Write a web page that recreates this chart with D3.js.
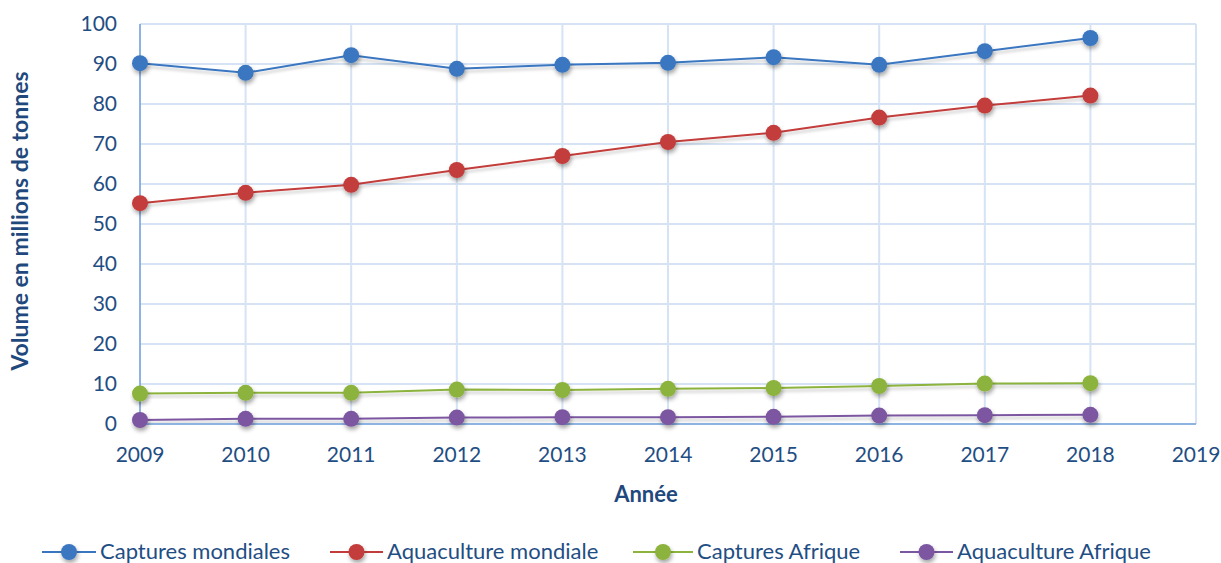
<!DOCTYPE html>
<html>
<head>
<meta charset="utf-8">
<script src="https://cdn.jsdelivr.net/npm/d3@7"></script>
<style>
  body { margin: 0; background: #fff; }
  svg text { font-family: Lato, "Open Sans", sans-serif; fill: #1f4e84; }
</style>
</head>
<body>
<svg id="chart" width="1221" height="563"></svg>
<script>
const years = [2009, 2010, 2011, 2012, 2013, 2014, 2015, 2016, 2017, 2018];
const capturesMondiales = [90.2, 87.8, 92.2, 88.8, 89.8, 90.3, 91.7, 89.8, 93.2, 96.5];
const aquacultureMondiale = [55.2, 57.8, 59.8, 63.5, 67.0, 70.5, 72.8, 76.6, 79.6, 82.1];
const capturesAfrique = [7.6, 7.8, 7.8, 8.6, 8.5, 8.8, 9.0, 9.5, 10.1, 10.2];
const aquacultureAfrique = [1.0, 1.3, 1.3, 1.6, 1.7, 1.7, 1.8, 2.1, 2.2, 2.3];
const seriesNames = ['Captures mondiales', 'Aquaculture mondiale', 'Captures Afrique', 'Aquaculture Afrique'];
const xTicks = [2009, 2010, 2011, 2012, 2013, 2014, 2015, 2016, 2017, 2018, 2019];
const yTicks = [0, 10, 20, 30, 40, 50, 60, 70, 80, 90, 100];

const colors = ['#3a76c0', '#c23d3a', '#8cb33c', '#7b57a1'];
const series = [capturesMondiales, aquacultureMondiale, capturesAfrique, aquacultureAfrique]
  .map((vals, i) => ({name: seriesNames[i], color: colors[i], values: vals}));

const svg = d3.select('#chart');

const x = d3.scaleLinear().domain([2009, 2019]).range([140, 1196]);
const y = d3.scaleLinear().domain([0, 100]).range([424, 24]);

// drop shadow for markers
const defs = svg.append('defs');
const f = defs.append('filter').attr('id', 'shadow')
  .attr('x', '-50%').attr('y', '-50%').attr('width', '200%').attr('height', '200%');
f.append('feDropShadow').attr('dx', 1).attr('dy', 3).attr('stdDeviation', 2)
  .attr('flood-color', '#000').attr('flood-opacity', 0.35);
const lf = defs.append('filter').attr('id', 'lshadow')
  .attr('x', '-5%').attr('y', '-50%').attr('width', '110%').attr('height', '200%');
lf.append('feDropShadow').attr('dx', 0).attr('dy', 3).attr('stdDeviation', 1.5)
  .attr('flood-color', '#000').attr('flood-opacity', 0.2);

// grid
const grid = svg.append('g');
grid.selectAll('.hg').data(yTicks.filter(d => d > 0)).enter().append('line')
  .attr('x1', x(2009)).attr('x2', x(2019))
  .attr('y1', d => y(d)).attr('y2', d => y(d))
  .attr('stroke', '#d5e3f4').attr('stroke-width', 2);
grid.selectAll('.vg').data(xTicks.filter(d => d > 2009)).enter().append('line')
  .attr('x1', d => x(d)).attr('x2', d => x(d))
  .attr('y1', y(100)).attr('y2', y(0))
  .attr('stroke', '#d5e3f4').attr('stroke-width', 2);

// axis lines
svg.append('line').attr('x1', x(2009)).attr('x2', x(2009)).attr('y1', y(100)).attr('y2', y(0))
  .attr('stroke', '#8db3e2').attr('stroke-width', 2);
svg.append('line').attr('x1', x(2009)).attr('x2', x(2019)).attr('y1', y(0)).attr('y2', y(0))
  .attr('stroke', '#8db3e2').attr('stroke-width', 2);

// tick labels
svg.append('g').selectAll('text').data(yTicks).enter().append('text')
  .attr('x', 117).attr('y', d => y(d)).attr('dy', '0.35em')
  .attr('text-anchor', 'end').attr('font-size', 21)
  .text(d => d);
svg.append('g').selectAll('text').data(xTicks).enter().append('text')
  .attr('x', d => x(d)).attr('y', 462)
  .attr('text-anchor', 'middle').attr('font-size', 21)
  .text(d => d);

// axis titles
svg.append('text').attr('transform', 'translate(28,221) rotate(-90)')
  .attr('text-anchor', 'middle').attr('font-size', 23).attr('font-weight', 'bold')
  .style('fill', '#1f497d')
  .text('Volume en millions de tonnes');
svg.append('text').attr('x', 646).attr('y', 502)
  .attr('text-anchor', 'middle').attr('font-size', 22).attr('font-weight', 'bold')
  .style('fill', '#1f497d')
  .text('Année');

// lines and markers
const line = d3.line().x((d, i) => x(years[i])).y(d => y(d));
const sg = svg.append('g').selectAll('g').data(series).enter().append('g');
sg.append('path')
  .attr('d', d => line(d.values))
  .attr('fill', 'none').attr('stroke', d => d.color).attr('stroke-width', 2)
  .attr('filter', 'url(#lshadow)');
sg.each(function(s) {
  d3.select(this).selectAll('circle').data(s.values).enter().append('circle')
    .attr('cx', (d, i) => x(years[i])).attr('cy', d => y(d))
    .attr('r', 8).attr('fill', s.color).attr('filter', 'url(#shadow)');
});

// legend
const legendPos = [
  {lx: 42, tx: 100},
  {lx: 330, tx: 387},
  {lx: 633, tx: 697},
  {lx: 900, tx: 957}
];
const lg = svg.append('g').selectAll('g').data(series).enter().append('g');
lg.append('line')
  .attr('x1', (d, i) => legendPos[i].lx).attr('x2', (d, i) => legendPos[i].tx - 4)
  .attr('y1', 552).attr('y2', 552)
  .attr('stroke', d => d.color).attr('stroke-width', 2);
lg.append('circle')
  .attr('cx', (d, i) => (legendPos[i].lx + legendPos[i].tx - 4) / 2).attr('cy', 552)
  .attr('r', 8).attr('fill', d => d.color).attr('filter', 'url(#shadow)');
lg.append('text')
  .attr('x', (d, i) => legendPos[i].tx).attr('y', 559)
  .attr('font-size', 22)
  .text(d => d.name);
</script>
</body>
</html>
